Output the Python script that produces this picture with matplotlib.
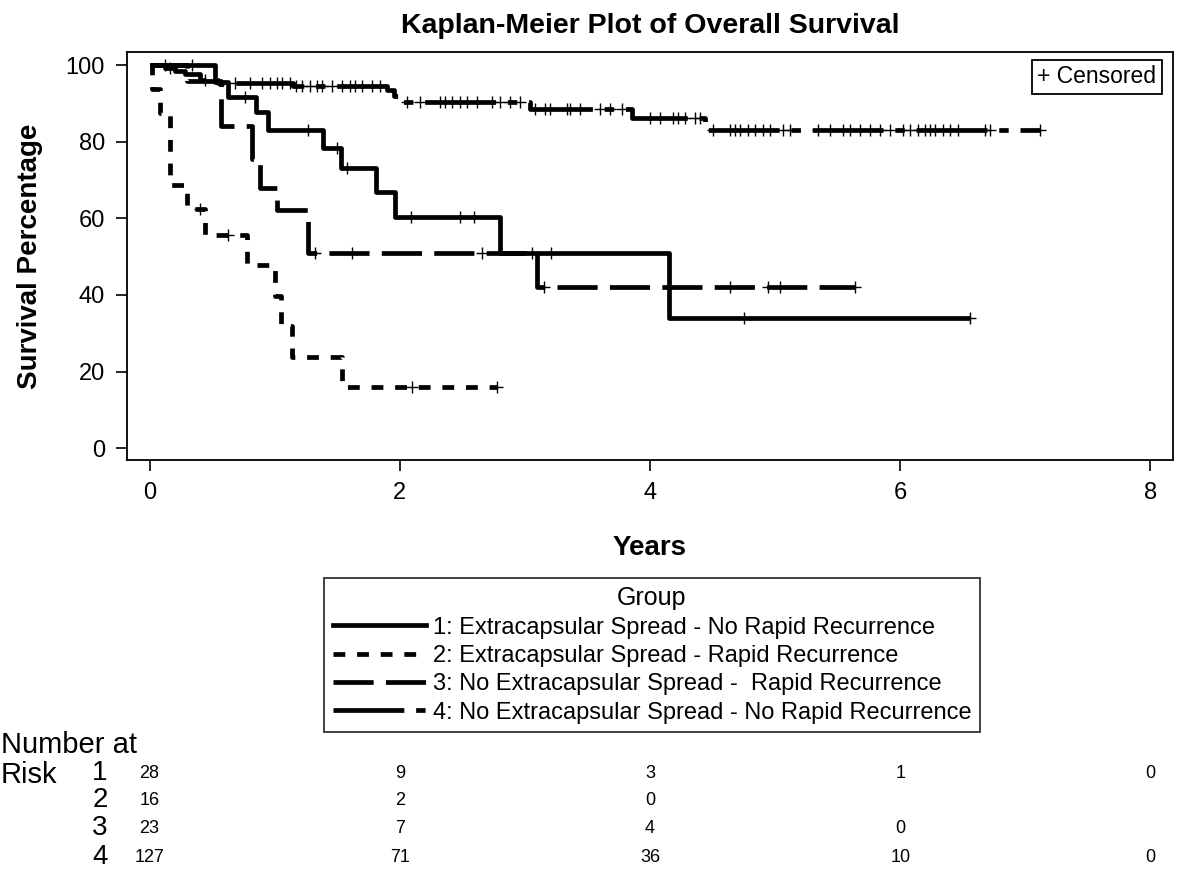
import numpy as np
import matplotlib
matplotlib.use("Agg")
import matplotlib.pyplot as plt
from matplotlib.lines import Line2D

plt.rcParams['font.family'] = ['Liberation Sans', 'DejaVu Sans']

# ---- data ----
group_labels = ["1: Extracapsular Spread - No Rapid Recurrence",
                "2: Extracapsular Spread - Rapid Recurrence",
                "3: No Extracapsular Spread -  Rapid Recurrence",
                "4: No Extracapsular Spread - No Rapid Recurrence"]

g1_t = [0, 0.52, 0.63, 0.85, 0.95, 1.39, 1.53, 1.81, 1.96, 2.8, 4.15, 6.56]
g1_s = [100, 95.6, 91.7, 87.8, 83.0, 78.3, 73.1, 66.9, 60.4, 50.9, 33.9, 33.9]
g1_cens = [0.12, 0.34, 0.76, 1.27, 1.5, 1.58, 2.09, 2.48, 2.59, 3.06, 3.21, 4.75, 6.56]

g2_t = [0, 0.02, 0.08, 0.16, 0.30, 0.44, 0.78, 1.0, 1.05, 1.14, 1.54, 2.78]
g2_s = [100, 93.8, 87.5, 68.8, 62.5, 55.6, 47.7, 39.8, 31.8, 23.9, 15.9, 15.9]
g2_cens = [0.4, 0.63, 2.1, 2.78]

g3_t = [0, 0.3, 0.57, 0.82, 0.88, 1.02, 1.27, 3.1, 5.64]
g3_s = [100, 95.7, 84.0, 75.6, 67.9, 62.1, 50.9, 42.0, 42.0]
g3_cens = [1.32, 1.62, 2.66, 3.15, 4.64, 4.94, 5.04, 5.64]

g4_t = [0, 0.12, 0.2, 0.28, 0.4, 0.55, 1.15, 1.9, 1.95, 2.02, 3.04, 3.86, 4.44, 7.12]
g4_s = [100, 99.2, 98.4, 97.6, 96.0, 95.2, 94.4, 93.6, 91.9, 90.3, 88.4, 86.2, 83.0, 83.0]
g4_cens = [0.16, 0.44, 0.68, 0.8, 0.9, 0.96, 1.02, 1.06, 1.12, 1.17, 1.22, 1.28, 1.34,
           1.38, 1.46, 1.54, 1.6, 1.64, 1.7, 1.78, 1.84,
           2.06, 2.16, 2.32, 2.36, 2.42, 2.48, 2.54, 2.62, 2.74, 2.8, 2.88, 2.96,
           3.08, 3.16, 3.2, 3.34, 3.36, 3.44, 3.6, 3.68, 3.78,
           4.0, 4.08, 4.18, 4.22, 4.28, 4.36, 4.4,
           4.5, 4.64, 4.68, 4.72, 4.78, 4.84, 4.9, 4.96, 5.06, 5.12, 5.34, 5.44,
           5.54, 5.6, 5.68, 5.76, 5.84, 5.92, 6.02, 6.08, 6.14, 6.2, 6.24, 6.28,
           6.34, 6.4, 6.46, 6.68, 6.72, 7.12]

risk_times = [0, 2, 4, 6, 8]
risk_g1 = ["28", "9", "3", "1", "0"]
risk_g2 = ["16", "2", "0", "", ""]
risk_g3 = ["23", "7", "4", "0", ""]
risk_g4 = ["127", "71", "36", "10", "0"]

# ---- styles ----
styles = [
    dict(ls="-", lw=3.4),
    dict(ls=(0, (2.5, 2.5)), lw=3.4),
    dict(ls=(0, (8.5, 2.6)), lw=3.4),
    dict(ls=(0, (15, 2.5, 2, 2.5)), lw=3.4),
]

fig = plt.figure(figsize=(11.78, 8.71), dpi=100)
W, H = 1178, 871
ax = fig.add_axes([127 / W, 1 - 460 / H, (1173 - 127) / W, (460 - 52) / H])

curves = [(g1_t, g1_s, g1_cens), (g2_t, g2_s, g2_cens),
          (g3_t, g3_s, g3_cens), (g4_t, g4_s, g4_cens)]

for (t, s, c), st in zip(curves, styles):
    ax.step(t, s, where="post", color="black", solid_capstyle="butt",
            dash_capstyle="butt", **st)
    idx = np.searchsorted(t, c, side="right") - 1
    cs = np.array(s)[idx]
    ax.plot(c, cs, "+", color="black", ms=8, mew=1.0)

ax.set_xlim(-0.18, 8.18)
ax.set_ylim(-3.1, 103.4)
ax.set_xticks([0, 2, 4, 6, 8])
ax.set_yticks([0, 20, 40, 60, 80, 100])
ax.tick_params(direction="out", length=8, width=1.2, labelsize=17, pad=8)
for sp in ax.spines.values():
    sp.set_linewidth(1.3)

ax.set_title("Kaplan-Meier Plot of Overall Survival", fontsize=20.5,
             fontweight="bold", pad=14)
ax.set_ylabel("Survival Percentage", fontsize=20, fontweight="bold", labelpad=16)
ax.set_xlabel("Years", fontsize=20, fontweight="bold", labelpad=22)

# censored box
ax.text(0.984, 0.967, "+ Censored", transform=ax.transAxes, ha="right",
        va="top", fontsize=16.5,
        bbox=dict(boxstyle="square,pad=0.25", fc="white", ec="black", lw=1.3))

# group legend
handles = [Line2D([], [], color="black", **st) for st in styles]
leg = fig.legend(handles, group_labels, title="Group", loc="upper center",
                 bbox_to_anchor=(652 / W, 1 - 578 / H), fontsize=17,
                 title_fontsize=18, frameon=True, fancybox=False,
                 handlelength=3.95, handletextpad=0.3, borderpad=0.35,
                 labelspacing=0.27, borderaxespad=0)
leg.get_frame().set_edgecolor("black")
leg.get_frame().set_linewidth(1.3)

# number at risk table
rax = fig.add_axes([127 / W, 0, (1173 - 127) / W, 1], frameon=False)
rax.set_xlim(ax.get_xlim())
rax.set_ylim(H, 0)
rax.set_xticks([])
rax.set_yticks([])
fig.text(1 / W, 1 - 745 / H, "Number at", fontsize=21, va="center", ha="left")
fig.text(1 / W, 1 - 775 / H, "Risk", fontsize=21, va="center", ha="left")
rows_y = [773, 800, 828, 857]
for k, (vals, yy) in enumerate(zip([risk_g1, risk_g2, risk_g3, risk_g4], rows_y)):
    fig.text(100 / W, 1 - yy / H, str(k + 1), fontsize=20, va="center", ha="center")
    for tt, v in zip(risk_times, vals):
        rax.text(tt, yy, v, fontsize=13, ha="center", va="center")

fig.savefig("out.png", dpi=100)
